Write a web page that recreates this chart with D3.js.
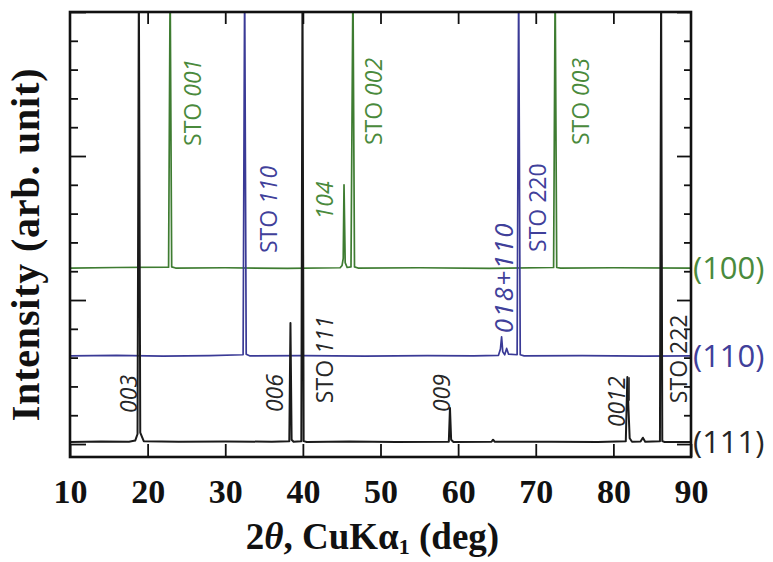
<!DOCTYPE html>
<html>
<head>
<meta charset="utf-8">
<script src="https://cdn.jsdelivr.net/npm/d3@7"></script>
<style>
  html, body { margin: 0; padding: 0; background: #fff; }
  svg { display: block; }
</style>
</head>
<body>
<svg id="chart" width="773" height="562"></svg>
<script>
// 2θ axis ticks and intensity (offset, arbitrary units) ticks
const xTicks = [10, 20, 30, 40, 50, 60, 70, 80, 90];
const yMinorTicks = [0, 1, 2, 3, 4, 5, 6, 7, 8, 9, 10, 11, 12, 13, 14, 15];
const yMajorTicks = [0, 5, 10, 15];

// XRD scans, [2θ (deg), intensity]; peaks that run off scale are clipped by the frame
const scan111 = [
  [10, 0.07], [14.0, 0.09], [17.6, 0.08], [18.4, 0.12], [18.7, 0.35], [18.87, 16],
  [19.05, 0.4], [19.5, 0.1], [24.0, 0.08], [30.0, 0.09], [36.0, 0.08], [38.25, 0.1],
  [38.4, 4.2], [38.55, 0.15], [38.8, 0.08], [39.8, 0.1], [39.95, 16], [40.1, 0.1],
  [40.5, 0.07], [46.0, 0.09], [52.0, 0.07], [58.8, 0.08], [58.95, 1.25], [59.1, 0.15],
  [59.4, 0.07], [64.3, 0.08], [64.5, 0.15], [64.7, 0.08], [72.0, 0.08], [78.0, 0.07],
  [81.6, 0.1], [81.8, 2.33], [81.95, 1.2], [82.1, 0.2], [82.4, 0.08], [83.5, 0.09],
  [83.8, 0.22], [84.1, 0.08], [86.0, 0.1], [86.15, 16], [86.3, 0.1], [86.6, 0.07], [90, 0.07]
];
const scan110 = [
  [10, 3.06], [16.0, 3.08], [22.0, 3.05], [28.0, 3.07], [32.3, 3.1], [32.5, 16],
  [32.7, 3.12], [33.2, 3.06], [40.0, 3.07], [48.0, 3.05], [56.0, 3.07], [62.0, 3.06],
  [65.2, 3.08], [65.45, 3.3], [65.6, 3.72], [65.75, 3.2], [66.0, 3.1], [66.25, 3.32],
  [66.5, 3.12], [67.6, 3.1], [67.8, 16], [68.0, 3.1], [68.5, 3.06],
  [76.0, 3.07], [84.0, 3.05], [90, 3.06]
];
const scan100 = [
  [10, 6.11], [16.0, 6.13], [22.7, 6.14], [22.9, 16], [23.1, 6.15], [23.6, 6.11],
  [30.0, 6.12], [38.0, 6.1], [44.8, 6.12], [45.05, 6.2], [45.2, 6.45], [45.3, 9.0],
  [45.45, 6.3], [45.7, 6.13], [46.2, 6.15], [46.45, 16], [46.65, 6.15],
  [47.1, 6.11], [55.0, 6.12], [64.0, 6.1], [72.3, 6.13], [72.5, 16],
  [72.7, 6.13], [73.2, 6.11], [80.0, 6.12], [90, 6.11]
];

// Reflection labels: text parts, anchor (2θ of the glyph baseline, intensity at text start)
const peakLabels = [
  { scan: "100", at: [26.9, 10.35], parts: [["STO ", 0], ["001", 1]] },
  { scan: "100", at: [50.2, 10.38], parts: [["STO ", 0], ["002", 1]] },
  { scan: "100", at: [76.85, 10.38], parts: [["STO ", 0], ["003", 1]] },
  { scan: "100", at: [43.9, 7.8], parts: [["104", 1]] },
  { scan: "110", at: [36.65, 6.63], parts: [["STO ", 0], ["110", 1]] },
  { scan: "110", at: [67.05, 3.85], parts: [["018+110", 1]], wide: true },
  { scan: "110", at: [71.3, 6.67], parts: [["STO 220", 0]] },
  { scan: "111", at: [18.6, 1.08], parts: [["003", 1]] },
  { scan: "111", at: [37.45, 1.11], parts: [["006", 1]] },
  { scan: "111", at: [43.85, 1.42], parts: [["STO ", 0], ["111", 1]] },
  { scan: "111", at: [58.95, 1.11], parts: [["009", 1]] },
  { scan: "111", at: [81.5, 0.59], parts: [["00", 1], ["12", 2]] },
  { scan: "111", at: [89.5, 1.42], parts: [["STO 222", 0]] }
];

// Orientation tags at the right edge, placed at each scan's baseline
const orientations = ["100", "110", "111"];
const orientationLevels = [6.11, 3.06, 0.07];

const colors = { "100": "#3e7c31", "110": "#3a3a96", "111": "#1a1a1a" };
const labelColors = { "100": "#4a8a3c", "110": "#40409a", "111": "#262626" };

const svg = d3.select("#chart");
const plotLeft = 70, plotRight = 691, plotTop = 12, plotBottom = 457;

const x = d3.scaleLinear().domain([10, 90]).range([plotLeft, plotRight]);
const y = d3.scaleLinear().domain([-0.45, 15]).range([plotBottom, plotTop]);

svg.append("defs").append("clipPath").attr("id", "plotClip")
  .append("rect").attr("x", plotLeft).attr("y", plotTop)
  .attr("width", plotRight - plotLeft).attr("height", plotBottom - plotTop);

const line = d3.line().x(d => x(d[0])).y(d => y(d[1]));

const plot = svg.append("g").attr("clip-path", "url(#plotClip)");
[["100", scan100], ["110", scan110], ["111", scan111]].forEach(([k, data]) => {
  plot.append("path")
    .datum(data)
    .attr("d", line)
    .attr("fill", "none")
    .attr("stroke", colors[k])
    .attr("stroke-width", k === "111" ? 2.0 : 1.7)
    .attr("stroke-linejoin", "round");
});

// Axes: ticks point inward on all four sides
function styleAxis(g) {
  g.select(".domain").remove();
  g.selectAll(".tick line").attr("stroke", "#111").attr("stroke-width", 1.8);
}

svg.append("g")
  .attr("transform", `translate(0,${plotBottom})`)
  .call(d3.axisBottom(x).tickValues(xTicks).tickSize(-13).tickPadding(22).tickFormat(d3.format("d")))
  .call(styleAxis)
  .call(g => g.selectAll(".tick text")
    .attr("font-family", "'Liberation Serif', 'Times New Roman', serif")
    .attr("font-weight", "bold")
    .attr("font-size", 34)
    .attr("fill", "#111")
    .attr("dy", "0.71em"));

svg.append("g")
  .attr("transform", `translate(0,${plotTop})`)
  .call(d3.axisTop(x).tickValues(xTicks.slice(1, -1)).tickSize(-12).tickFormat(""))
  .call(styleAxis);

const minorOnly = yMinorTicks.filter(v => !yMajorTicks.includes(v));
svg.append("g")
  .attr("transform", `translate(${plotLeft},0)`)
  .call(d3.axisLeft(y).tickValues(minorOnly).tickSize(-8).tickFormat(""))
  .call(styleAxis);
svg.append("g")
  .attr("transform", `translate(${plotLeft},0)`)
  .call(d3.axisLeft(y).tickValues(yMajorTicks).tickSize(-16).tickFormat(""))
  .call(styleAxis);
svg.append("g")
  .attr("transform", `translate(${plotRight},0)`)
  .call(d3.axisRight(y).tickValues(minorOnly).tickSize(-7).tickFormat(""))
  .call(styleAxis);
svg.append("g")
  .attr("transform", `translate(${plotRight},0)`)
  .call(d3.axisRight(y).tickValues(yMajorTicks).tickSize(-14).tickFormat(""))
  .call(styleAxis);

// Frame
svg.append("rect")
  .attr("x", plotLeft).attr("y", plotTop)
  .attr("width", plotRight - plotLeft).attr("height", plotBottom - plotTop)
  .attr("fill", "none").attr("stroke", "#111").attr("stroke-width", 2.6);

// Reflection labels, rotated to read upward; style 2 marks an underlined index
const labelFont = "'Open Sans', 'Noto Sans', sans-serif";
peakLabels.forEach(lab => {
  const px = x(lab.at[0]), py = y(lab.at[1]);
  const g = svg.append("g").attr("transform", `translate(${px},${py}) rotate(-90)`);
  const t = g.append("text")
    .attr("font-family", labelFont)
    .attr("font-size", lab.wide ? 26 : 23)
    .attr("letter-spacing", lab.wide ? 1.5 : 0)
    .attr("fill", labelColors[lab.scan]);
  let offset = 0;
  lab.parts.forEach(([txt, style]) => {
    t.append("tspan").text(txt).attr("font-style", style ? "italic" : "normal");
    const node = t.node();
    const start = node.getSubStringLength(0, offset);
    const len = node.getSubStringLength(offset, txt.length);
    if (style === 2) {
      g.append("line")
        .attr("x1", start + 1).attr("x2", start + len - 1)
        .attr("y1", 4).attr("y2", 4)
        .attr("stroke", labelColors[lab.scan]).attr("stroke-width", 1.6);
    }
    offset += txt.length;
  });
});

// Orientation tags
orientations.forEach((o, i) => {
  svg.append("text")
    .attr("x", plotRight + 2)
    .attr("y", y(orientationLevels[i]))
    .attr("dy", "0.36em")
    .attr("font-family", labelFont)
    .attr("font-size", 31)
    .attr("fill", labelColors[o])
    .text(`(${o})`);
});

// Axis titles
const serif = "'Liberation Serif', 'Times New Roman', serif";
const xTitle = svg.append("text")
  .attr("x", (plotLeft + plotRight) / 2 - 8)
  .attr("y", 549)
  .attr("text-anchor", "middle")
  .attr("font-family", serif)
  .attr("font-weight", "bold")
  .attr("font-size", 37)
  .attr("fill", "#111");
xTitle.append("tspan").text("2");
xTitle.append("tspan").attr("font-style", "italic").text("θ");
xTitle.append("tspan").text(", CuK");
xTitle.append("tspan").text("α");
xTitle.append("tspan").attr("font-size", 22).attr("dy", 5).text("1");
xTitle.append("tspan").attr("dy", -5).text(" (deg)");

svg.append("text")
  .attr("transform", `translate(39,${(plotTop + plotBottom) / 2 + 10}) rotate(-90)`)
  .attr("text-anchor", "middle")
  .attr("font-family", serif)
  .attr("font-weight", "bold")
  .attr("font-size", 40)
  .attr("letter-spacing", 0.8)
  .attr("fill", "#111")
  .text("Intensity (arb. unit)");
</script>
</body>
</html>
